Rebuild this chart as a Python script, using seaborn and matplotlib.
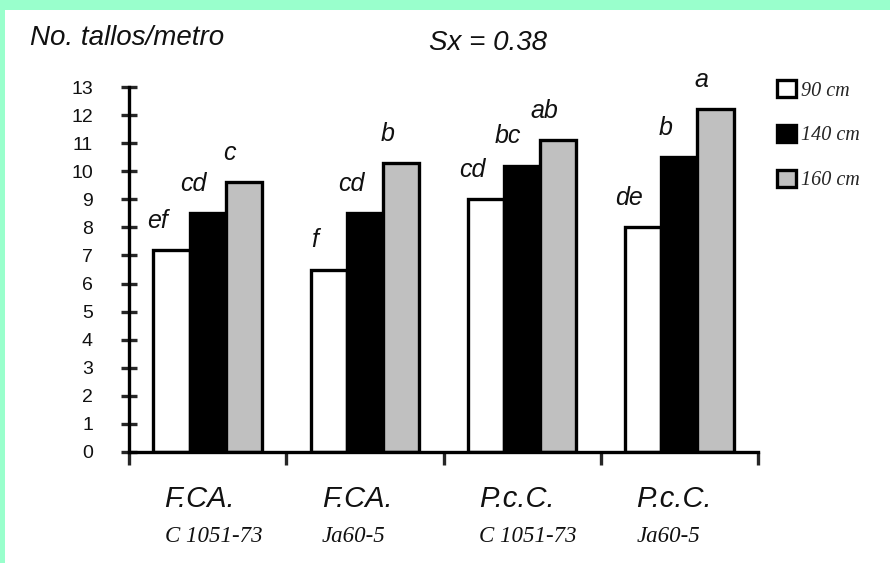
import matplotlib
matplotlib.use("Agg")
import matplotlib.pyplot as plt
from matplotlib.patches import Rectangle
import seaborn as sns
import pandas as pd

# ---- data ----
group_line1 = ["F.CA.", "F.CA.", "P.c.C.", "P.c.C."]
group_line2 = ["C 1051-73", "Ja60-5", "C 1051-73", "Ja60-5"]
heights = ["90 cm", "140 cm", "160 cm"]
vals_90 = [7.2, 6.5, 9.0, 8.0]
vals_140 = [8.5, 8.5, 10.2, 10.5]
vals_160 = [9.6, 10.3, 11.1, 12.2]
letters_90 = ["ef", "f", "cd", "de"]
letters_140 = ["cd", "cd", "bc", "b"]
letters_160 = ["c", "b", "ab", "a"]
y_ticks = list(range(0, 14))
y_title = "No. tallos/metro"
sx_text = "Sx = 0.38"

groups = [f"{a} {b}" for a, b in zip(group_line1, group_line2)]
rows = []
for h, vals in zip(heights, [vals_90, vals_140, vals_160]):
    for g, v in zip(groups, vals):
        rows.append({"grupo": g, "altura": h, "valor": v})
df = pd.DataFrame(rows)

sns.set_theme(style="white")
plt.rcParams["font.family"] = ["Liberation Sans", "DejaVu Sans"]

W, H = 890, 563
fig = plt.figure(figsize=(W / 100, H / 100), dpi=100)
fig.patch.set_facecolor("#99FFCC")
fig.patches.append(Rectangle((5 / W, 0), 1, 1 - 10 / H, transform=fig.transFigure,
                             facecolor="white", edgecolor="none", zorder=-10))

ax = fig.add_axes([129 / W, 1 - 452 / H, (758 - 129) / W, (452 - 87) / H])
ax.patch.set_alpha(0)

sns.barplot(data=df, x="grupo", y="valor", hue="altura", order=groups, hue_order=heights,
            palette=["white", "black", "#C0C0C0"], saturation=1, width=0.69,
            edgecolor="black", linewidth=2.4, ax=ax, errorbar=None)

ax.set_xlim(-0.5, len(groups) - 0.5)
ax.set_ylim(0, 13)
ax.set_xlabel("")
ax.set_ylabel("")
for s in ["top", "right"]:
    ax.spines[s].set_visible(False)
for s in ["left", "bottom"]:
    ax.spines[s].set_linewidth(2.4)
    ax.spines[s].set_color("black")

ax.set_yticks(y_ticks)
ax.set_yticklabels([str(t) for t in y_ticks], fontsize=14, color="#111111")
ax.tick_params(axis="y", direction="inout", length=12, width=2.4, pad=20, left=True)
ax.set_xticks([i - 0.5 for i in range(len(groups) + 1)])
ax.set_xticklabels([])
ax.tick_params(axis="x", direction="out", length=9, width=2.4, bottom=True)

# letters above bars
for cont, letters in zip(ax.containers, [letters_90, letters_140, letters_160]):
    for bar, lt in zip(cont, letters):
        ax.annotate(lt, (bar.get_x() + bar.get_width() / 2, bar.get_height()),
                    xytext=(-10, 21), textcoords="offset points", ha="center", va="center",
                    fontsize=18, style="italic", color="#111111")

# two-line group labels
for i, (l1, l2) in enumerate(zip(group_line1, group_line2)):
    ax.annotate(l1, (i, 1 - 499 / H), xycoords=("data", "figure fraction"),
                xytext=(-31, 0), textcoords="offset points", ha="left", va="center",
                fontsize=21, style="italic", color="#111111")
    ax.annotate(l2, (i, 1 - 536 / H), xycoords=("data", "figure fraction"),
                xytext=(-31, 0), textcoords="offset points", ha="left", va="center",
                fontsize=16.5, style="italic", family=["Liberation Serif", "DejaVu Serif"],
                color="#111111")

fig.text(30 / W, 1 - 38 / H, y_title, ha="left", va="center", fontsize=20,
         style="italic", color="#111111")
fig.text(488 / W, 1 - 43 / H, sx_text, ha="center", va="center", fontsize=20,
         style="italic", color="#111111")

handles, labels = ax.get_legend_handles_labels()
leg = ax.legend(handles, labels, loc="upper left", bbox_to_anchor=(777 / W, 1 - 80 / H),
                bbox_transform=fig.transFigure, frameon=False, borderpad=0,
                borderaxespad=0, handlelength=0.95, handleheight=0.95, handletextpad=0.25,
                labelspacing=1.2, prop={"family": ["Liberation Serif", "DejaVu Serif"],
                                        "style": "italic", "size": 14.5})
for h in leg.legend_handles:
    h.set_edgecolor("black")
    h.set_linewidth(2.4)

fig.savefig("out.png", dpi=100, facecolor=fig.get_facecolor())
